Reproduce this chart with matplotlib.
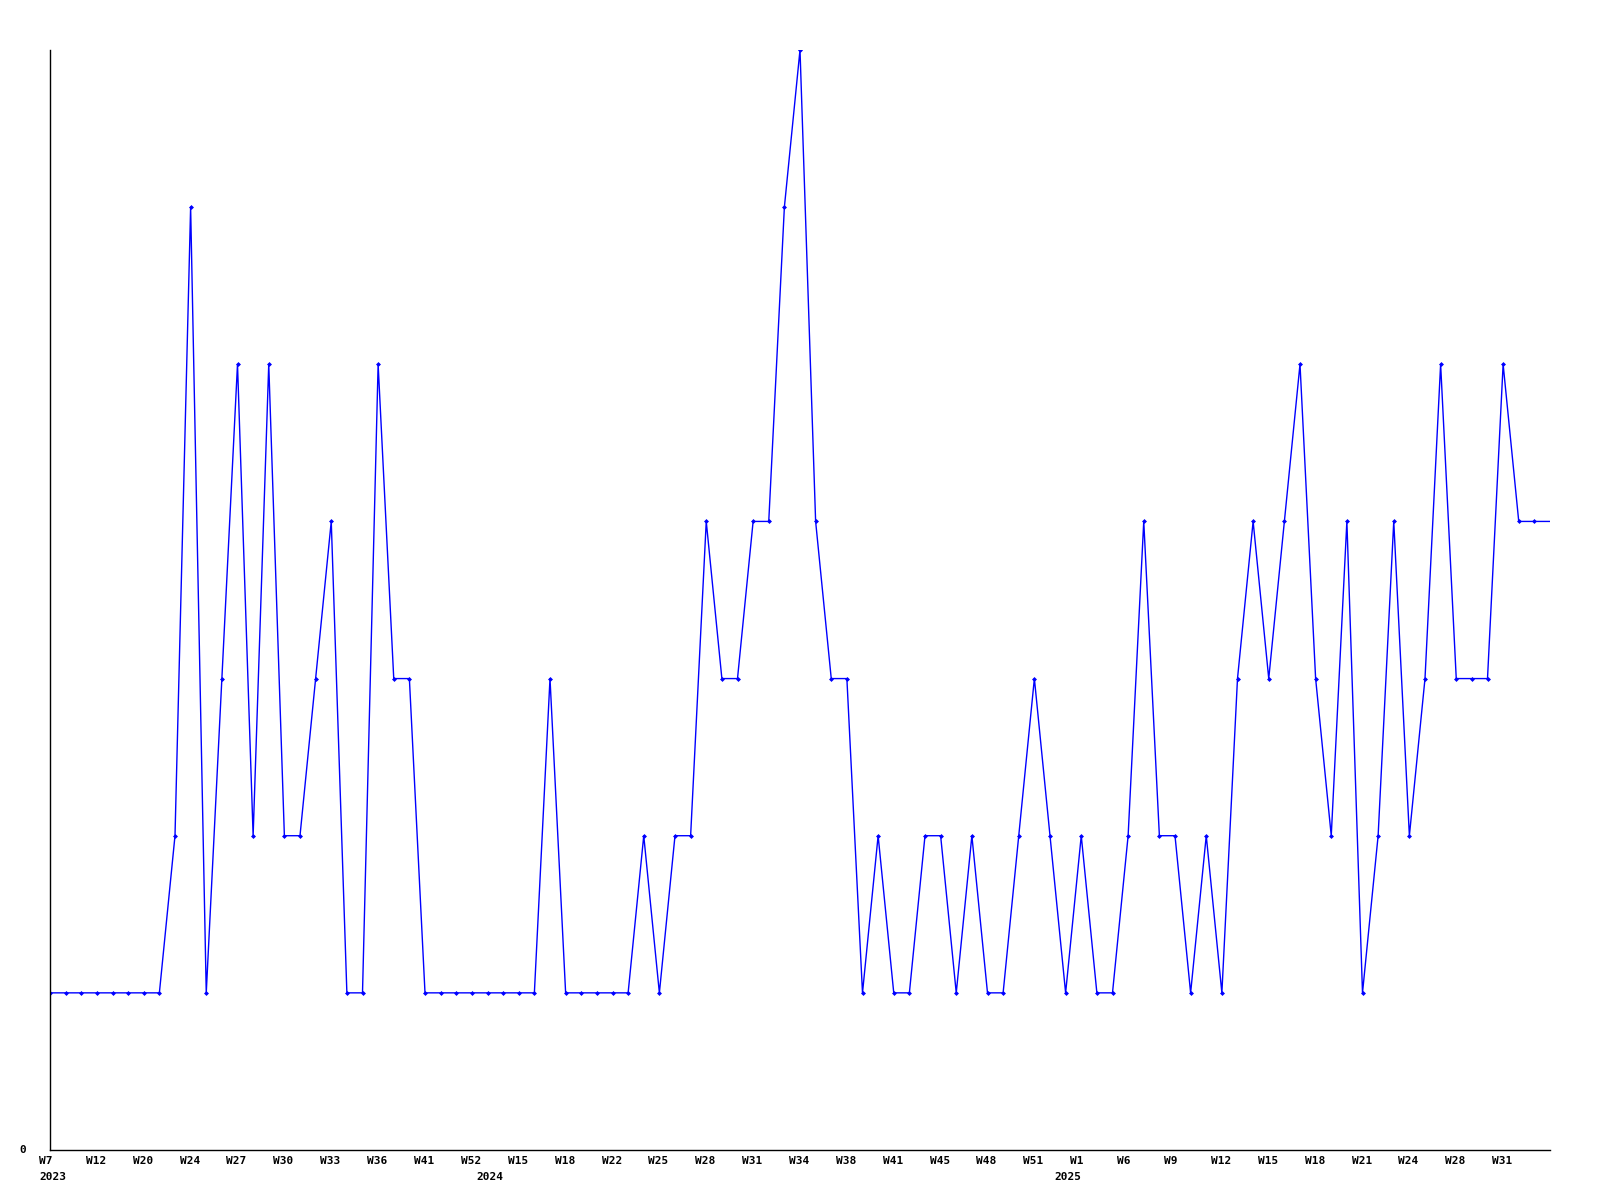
#!/usr/bin/env python3
"""Weekly count line chart, redrawn from the reference picture"""

import numpy as np
import matplotlib
matplotlib.use('Agg')
import matplotlib.pyplot as plt

# weekly values, one per point (97 points)
counts = [
    1, 1, 1, 1, 1, 1, 1, 1, 2, 6,
    1, 3, 5, 2, 5, 2, 2, 3, 4, 1,
    1, 5, 3, 3, 1, 1, 1, 1, 1, 1,
    1, 1, 3, 1, 1, 1, 1, 1, 2, 1,
    2, 2, 4, 3, 3, 4, 4, 6, 7, 4,
    3, 3, 1, 2, 1, 1, 2, 2, 1, 2,
    1, 1, 2, 3, 2, 1, 2, 1, 1, 2,
    4, 2, 2, 1, 2, 1, 3, 4, 3, 4,
    5, 3, 2, 4, 1, 2, 4, 2, 3, 5,
    3, 3, 3, 5, 4, 4, 4,
]

# labels shown under every third point
week_labels = [
    'W7', 'W12', 'W20', 'W24', 'W27', 'W30', 'W33', 'W36', 'W41', 'W52', 'W15',
    'W18', 'W22', 'W25', 'W28', 'W31', 'W34', 'W38', 'W41', 'W45', 'W48', 'W51',
    'W1', 'W6', 'W9', 'W12', 'W15', 'W18', 'W21', 'W24', 'W28', 'W31',
]
label_step = 3

# year markers: first point of each year
years = ['2023', '2024', '2025']
year_first_point = [0, 28, 65]

BLUE = '#0000ff'
FONT = dict(family='DejaVu Sans Mono', fontweight='bold', fontsize=8)

fig = plt.figure(figsize=(16, 12), dpi=100)
ax = fig.add_axes([50 / 1600, 50 / 1200, 1500 / 1600, 1100 / 1200])

x = np.arange(len(counts))
ax.plot(x, counts, color=BLUE, linewidth=1.0, marker='D', markersize=2.0,
        markevery=list(range(len(counts) - 1)), markeredgewidth=0.5)

ax.set_xlim(0, len(counts) - 1)
ax.set_ylim(0, max(counts))

# axis lines: left and bottom only
for side in ('top', 'right'):
    ax.spines[side].set_visible(False)
for side in ('left', 'bottom'):
    ax.spines[side].set_color('black')
    ax.spines[side].set_linewidth(1.0)
ax.set_xticks([])
ax.set_yticks([])

# week labels, left-aligned a little before their point
for i, lab in enumerate(week_labels):
    ax.annotate(lab, xy=(i * label_step, 0), xycoords=('data', 'axes fraction'),
                xytext=(-11, -11), textcoords='offset pixels',
                ha='left', va='center', **FONT)

# year labels on a second row
for yr, idx in zip(years, year_first_point):
    ax.annotate(yr, xy=(idx, 0), xycoords=('data', 'axes fraction'),
                xytext=(-11, -27), textcoords='offset pixels',
                ha='left', va='center', **FONT)

# only the zero is labelled on the y axis
ax.annotate('0', xy=(0, 0), xycoords='axes fraction', xytext=(-27, 0),
            textcoords='offset pixels', ha='center', va='center', **FONT)

plt.savefig('out.png', dpi=100)
